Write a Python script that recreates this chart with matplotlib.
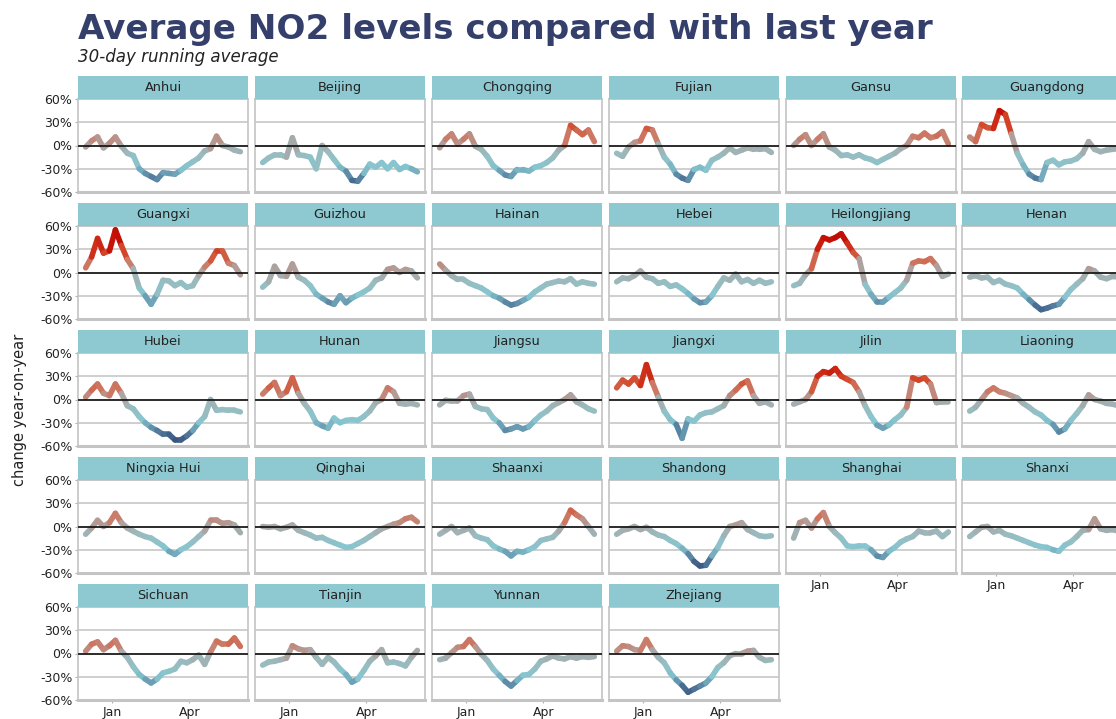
# NO2 year-on-year change by province, small multiples
import matplotlib
matplotlib.use('Agg')
import matplotlib.pyplot as plt
import matplotlib.dates as mdates
from matplotlib.collections import LineCollection
from matplotlib.colors import LinearSegmentedColormap, Normalize
import numpy as np
import pandas as pd

# weekly points, 30-day running average, % change vs last year
dates = pd.date_range('2019-12-01', periods=27, freq='7D')

provinces = ['Anhui', 'Beijing', 'Chongqing', 'Fujian', 'Gansu', 'Guangdong',
             'Guangxi', 'Guizhou', 'Hainan', 'Hebei', 'Heilongjiang', 'Henan',
             'Hubei', 'Hunan', 'Jiangsu', 'Jiangxi', 'Jilin', 'Liaoning',
             'Ningxia Hui', 'Qinghai', 'Shaanxi', 'Shandong', 'Shanghai', 'Shanxi',
             'Sichuan', 'Tianjin', 'Yunnan', 'Zhejiang']

anhui = [-2, 6, 11, -3, 3, 11, -1, -10, -13, -30, -36, -40, -44, -35, -36, -37, -32, -26, -21, -16, -7, -4, 12, 0, -2, -6, -8]
beijing = [-22, -16, -12, -12, -15, 10, -12, -13, -15, -30, 0, -8, -18, -28, -33, -45, -46, -36, -24, -28, -22, -30, -22, -31, -27, -30, -34]
chongqing = [-3, 8, 15, 2, 8, 15, -1, -5, -14, -26, -32, -38, -40, -31, -31, -33, -28, -26, -22, -16, -6, 0, 26, 20, 14, 20, 5]
fujian = [-10, -14, -2, 4, 6, 22, 20, 2, -15, -24, -37, -42, -45, -31, -28, -32, -19, -15, -10, -3, -9, -6, -3, -5, -5, -4, -9]
gansu = [0, 8, 14, 0, 8, 15, -2, -6, -13, -12, -15, -12, -16, -18, -22, -18, -14, -10, -4, 0, 12, 10, 16, 10, 12, 18, 2]
guangdong = [11, 5, 27, 23, 22, 45, 40, 15, -10, -25, -37, -42, -44, -22, -19, -25, -21, -20, -17, -10, 5, -5, -8, -6, -5, -5, -6]
guangxi = [6, 20, 44, 25, 28, 55, 35, 17, 5, -20, -30, -41, -28, -10, -11, -17, -13, -19, -17, -4, 7, 15, 28, 28, 12, 9, -3]
guizhou = [-19, -12, 8, -4, -5, 11, -6, -10, -17, -28, -33, -38, -41, -30, -39, -33, -29, -25, -20, -10, -7, 4, 6, 0, 4, 2, -7]
hainan = [11, 3, -4, -9, -9, -14, -17, -20, -25, -30, -33, -38, -42, -40, -36, -32, -25, -20, -15, -13, -11, -12, -8, -15, -12, -14, -15]
hebei = [-12, -7, -8, -4, 2, -6, -8, -14, -12, -18, -16, -21, -27, -34, -39, -38, -30, -18, -7, -10, -2, -12, -9, -14, -10, -14, -12]
heilongjiang = [-17, -14, -3, 5, 30, 45, 42, 45, 50, 38, 26, 18, -15, -28, -38, -38, -32, -26, -20, -10, 12, 15, 14, 18, 9, -5, -2]
henan = [-6, -4, -7, -6, -13, -10, -15, -17, -20, -28, -35, -42, -48, -46, -43, -41, -32, -22, -15, -8, 5, 2, -6, -8, -5, -6, -6]
hubei = [3, 12, 20, 8, 5, 20, 8, -8, -12, -22, -30, -36, -40, -45, -45, -52, -52, -47, -40, -30, -22, 0, -14, -13, -14, -14, -16]
hunan = [7, 15, 22, 5, 10, 28, 8, -5, -15, -30, -34, -37, -24, -30, -27, -26, -27, -22, -15, -4, 0, 15, 10, -5, -6, -5, -7]
jiangsu = [-7, -1, -2, -2, 5, 7, -9, -12, -13, -24, -30, -40, -38, -35, -38, -35, -27, -20, -15, -8, -4, 0, 6, -3, -7, -12, -15]
jiangxi = [15, 25, 20, 28, 18, 45, 22, 3, -15, -26, -32, -50, -25, -28, -20, -17, -16, -12, -8, 5, 12, 20, 24, 5, -5, -3, -7]
jilin = [-6, -3, 0, 10, 30, 36, 34, 40, 30, 26, 22, 10, -8, -22, -33, -37, -33, -26, -20, -10, 28, 25, 28, 20, -4, -3, -3]
liaoning = [-15, -10, 0, 10, 15, 10, 8, 5, 2, -5, -10, -16, -20, -27, -32, -42, -38, -27, -18, -8, 6, 0, -2, -5, -6, -8, -9]
ningxia_hui = [-10, -2, 8, 0, 5, 17, 5, -2, -6, -10, -13, -15, -20, -25, -32, -36, -30, -26, -20, -13, -6, 8, 8, 4, 5, 2, -8]
qinghai = [0, -1, 0, -3, -1, 2, -5, -8, -11, -15, -14, -18, -21, -24, -27, -26, -22, -18, -13, -8, -3, 0, 3, 5, 10, 12, 6]
shaanxi = [-10, -5, 0, -8, -5, -2, -12, -15, -17, -25, -29, -32, -38, -32, -33, -30, -26, -18, -16, -14, -6, 5, 21, 15, 10, 0, -10]
shandong = [-10, -5, -3, 0, -4, -1, -7, -11, -13, -18, -22, -28, -35, -45, -51, -50, -38, -27, -12, 0, 2, 5, -4, -8, -12, -13, -12]
shanghai = [-15, 5, 8, -2, 10, 18, 0, -8, -15, -25, -26, -25, -25, -30, -38, -40, -32, -27, -20, -16, -13, -6, -8, -8, -6, -13, -7]
shanxi = [-13, -7, -1, 0, -7, -5, -10, -12, -15, -18, -21, -24, -26, -27, -30, -32, -24, -20, -13, -5, -4, 10, -3, -5, -4, -6, -5]
sichuan = [3, 12, 15, 5, 10, 17, 3, -5, -17, -27, -33, -38, -33, -25, -23, -20, -10, -12, -8, -2, -14, 2, 16, 12, 12, 20, 9]
tianjin = [-15, -11, -10, -8, -6, 10, 6, 4, 5, -5, -14, -5, -11, -20, -27, -37, -33, -22, -10, -3, 5, -12, -11, -13, -16, -5, 4]
yunnan = [-8, -6, 1, 8, 9, 18, 9, -1, -9, -20, -28, -36, -42, -35, -28, -27, -20, -10, -7, -3, -6, -7, -4, -6, -4, -5, -4]
zhejiang = [3, 10, 9, 5, 4, 18, 5, -5, -12, -25, -34, -41, -50, -46, -42, -38, -30, -18, -12, -3, 0, 0, 3, 4, -5, -9, -8]

series = [anhui, beijing, chongqing, fujian, gansu, guangdong,
          guangxi, guizhou, hainan, hebei, heilongjiang, henan,
          hubei, hunan, jiangsu, jiangxi, jilin, liaoning,
          ningxia_hui, qinghai, shaanxi, shandong, shanghai, shanxi,
          sichuan, tianjin, yunnan, zhejiang]

# diverging palette: navy -> teal -> grey -> red
anchors = [(-60, '#283a6a'), (-45, '#4a6e94'), (-28, '#86c6d0'), (-12, '#98bcc0'),
           (0, '#a8a8a8'), (12, '#cc7a66'), (25, '#d44a2c'), (40, '#c81408'), (60, '#b00000')]
cmap = LinearSegmentedColormap.from_list(
    'no2', [((v + 60) / 120, c) for v, c in anchors])
norm = Normalize(-60, 60)

W, H = 1116, 719
fig = plt.figure(figsize=(W / 100, H / 100), dpi=100)

def box(x, y, w, h):
    return [x / W, 1 - (y + h) / H, w / W, h / H]

col_left = [78, 255, 432, 609, 786, 962]
row_top = [99, 226, 353, 480, 607]
pw, ph, sh = 170, 93, 23

xnum = mdates.date2num(dates)
xlim = (mdates.date2num(pd.Timestamp('2019-11-22')), mdates.date2num(pd.Timestamp('2020-06-09')))
xticks = mdates.date2num([pd.Timestamp('2020-01-01'), pd.Timestamp('2020-04-01')])

for i, (name, vals) in enumerate(zip(provinces, series)):
    r, c = divmod(i, 6)
    x0, y0 = col_left[c], row_top[r]
    ax = fig.add_axes(box(x0, y0, pw, ph))
    y = np.array(vals, dtype=float)
    pts = np.column_stack([xnum, y]).reshape(-1, 1, 2)
    segs = np.concatenate([pts[:-1], pts[1:]], axis=1)
    lc = LineCollection(segs, cmap=cmap, norm=norm, linewidths=4.0,
                        capstyle='round', joinstyle='round', zorder=2)
    lc.set_array((y[:-1] + y[1:]) / 2)
    ax.add_collection(lc)
    ax.axhline(0, color='black', lw=1.1, zorder=3)
    ax.set_xlim(*xlim)
    ax.set_ylim(-60, 60)
    ax.set_yticks([-60, -30, 0, 30, 60])
    ax.set_xticks(xticks)
    ax.grid(axis='y', color='#cccccc', lw=1.3)
    ax.set_axisbelow(True)
    for s in ax.spines.values():
        s.set_color('#c4c4c4')
        s.set_linewidth(1.2)
    ax.spines['bottom'].set_linewidth(2.2)
    ax.tick_params(colors='#b0b0b0', labelcolor='#222222', labelsize=9, length=2.5, width=0.8, pad=1.5)
    if c == 0:
        ax.set_yticklabels(['-60%', '-30%', '0%', '30%', '60%'])
    else:
        ax.tick_params(axis='y', length=0, labelleft=False)
    if i >= 22:
        ax.set_xticklabels(['Jan', 'Apr'])
    else:
        ax.tick_params(axis='x', length=0, labelbottom=False)

    # facet strip
    sax = fig.add_axes(box(x0, y0 - sh, pw, sh))
    sax.set_facecolor('#8ec8d0')
    sax.set_xticks([])
    sax.set_yticks([])
    for s in sax.spines.values():
        s.set_visible(False)
    sax.text(0.5, 0.5, name, ha='center', va='center', fontsize=9.3, color='#222222',
             transform=sax.transAxes)

fig.text(78 / W, 1 - 39 / H, 'Average NO2 levels compared with last year',
         fontsize=24.6, fontweight='bold', color='#34406b', va='baseline')
fig.text(78 / W, 1 - 62 / H, '30-day running average', fontsize=12,
         style='italic', color='#222222', va='baseline')
fig.text(20 / W, 1 - 410 / H, 'change year-on-year', rotation=90, fontsize=10.5,
         color='#222222', ha='center', va='center')

fig.savefig('out.png', dpi=100)
